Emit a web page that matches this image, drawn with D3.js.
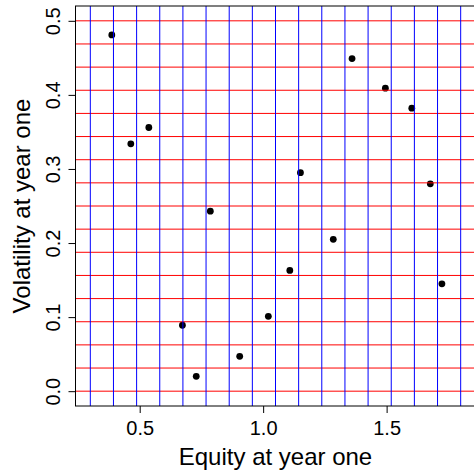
<!DOCTYPE html>
<html>
<head>
<meta charset="utf-8">
<script src="https://cdn.jsdelivr.net/npm/d3@7"></script>
<style>
  html, body { margin: 0; padding: 0; background: #fff; overflow: hidden; }
  svg { display: block; }
  text { font-family: "Liberation Sans", Arial, Helvetica, sans-serif; fill: #000; }
</style>
</head>
<body>
<script>
// Equity vs. volatility observations at year one
const equity     = [0.387, 0.464, 0.537, 0.786, 0.673, 0.729, 0.905, 1.021,
                    1.108, 1.151, 1.284, 1.360, 1.495, 1.602, 1.677, 1.724];
const volatility = [0.481, 0.334, 0.356, 0.243, 0.089, 0.020, 0.047, 0.101,
                    0.163, 0.295, 0.205, 0.449, 0.409, 0.382, 0.280, 0.145];

// Axis ticks and labels
const xTicks = [0.5, 1.0, 1.5];
const xTickLabels = ["0.5", "1.0", "1.5"];
const yTicks = [0.0, 0.1, 0.2, 0.3, 0.4, 0.5];
const yTickLabels = ["0.0", "0.1", "0.2", "0.3", "0.4", "0.5"];

// Plot limits and reference grid (17 evenly spaced lines on each axis)
const xLimits = [0.3, 1.8];
const yLimits = [0.0, 0.5];
const gridCount = 17;

const xTitle = "Equity at year one";
const yTitle = "Volatility at year one";

const W = 474, H = 471;
const svg = d3.select("body").append("svg").attr("width", W).attr("height", H);

// 4% padding around the limits, as in a base-graphics plot
const pad = l => [l[0] - 0.04 * (l[1] - l[0]), l[1] + 0.04 * (l[1] - l[0])];
const x = d3.scaleLinear().domain(pad(xLimits)).range([75.5, 475.5]);
const y = d3.scaleLinear().domain(pad(yLimits)).range([406, 6]);

const xGrid = d3.range(gridCount).map(i => xLimits[0] + i * (xLimits[1] - xLimits[0]) / (gridCount - 1));
const yGrid = d3.range(gridCount).map(i => yLimits[0] + i * (yLimits[1] - yLimits[0]) / (gridCount - 1));

const [x0, x1] = x.range();
const [y0, y1] = y.range();

// Points first, grid lines drawn over them
svg.append("g").selectAll("circle").data(equity).join("circle")
  .attr("cx", d => x(d))
  .attr("cy", (d, i) => y(volatility[i]))
  .attr("r", 3.4)
  .attr("fill", "#000");

svg.append("g").selectAll("line").data(yGrid).join("line")
  .attr("x1", x0).attr("x2", x1)
  .attr("y1", d => y(d)).attr("y2", d => y(d))
  .attr("stroke", "#ff0000").attr("stroke-width", 1);

svg.append("g").selectAll("line").data(xGrid).join("line")
  .attr("x1", d => x(d)).attr("x2", d => x(d))
  .attr("y1", y0).attr("y2", y1)
  .attr("stroke", "#0000ff").attr("stroke-width", 1);

// Plot box
svg.append("rect")
  .attr("x", x0).attr("y", y1)
  .attr("width", x1 - x0).attr("height", y0 - y1)
  .attr("fill", "none").attr("stroke", "#000").attr("stroke-width", 1);

// Bottom axis
const xAxis = d3.axisBottom(x).tickValues(xTicks)
  .tickFormat((d, i) => xTickLabels[i]).tickSize(7).tickPadding(7);
const gx = svg.append("g").attr("transform", `translate(0,${y0})`).call(xAxis);
gx.select(".domain").remove();
gx.selectAll(".tick line").attr("stroke", "#000");
gx.selectAll(".tick text").attr("font-size", 20).attr("font-family", null).attr("dy", null)
  .attr("y", 29).attr("fill", "#000");

// Left axis with labels rotated parallel to the axis
const yAxis = d3.axisLeft(y).tickValues(yTicks)
  .tickFormat((d, i) => yTickLabels[i]).tickSize(7);
const gy = svg.append("g").attr("transform", `translate(${x0},0)`).call(yAxis);
gy.select(".domain").remove();
gy.selectAll(".tick line").attr("stroke", "#000");
gy.selectAll(".tick text")
  .attr("font-size", 20).attr("font-family", null)
  .attr("x", null).attr("dy", null)
  .attr("text-anchor", "middle")
  .attr("transform", "translate(-16,0) rotate(-90)")
  .attr("fill", "#000");

// Axis titles
svg.append("text")
  .attr("x", (x0 + x1) / 2).attr("y", 465)
  .attr("text-anchor", "middle").attr("font-size", 24)
  .text(xTitle);

svg.append("text")
  .attr("transform", `translate(30,${(y0 + y1) / 2}) rotate(-90)`)
  .attr("text-anchor", "middle").attr("font-size", 24)
  .text(yTitle);
</script>
</body>
</html>
